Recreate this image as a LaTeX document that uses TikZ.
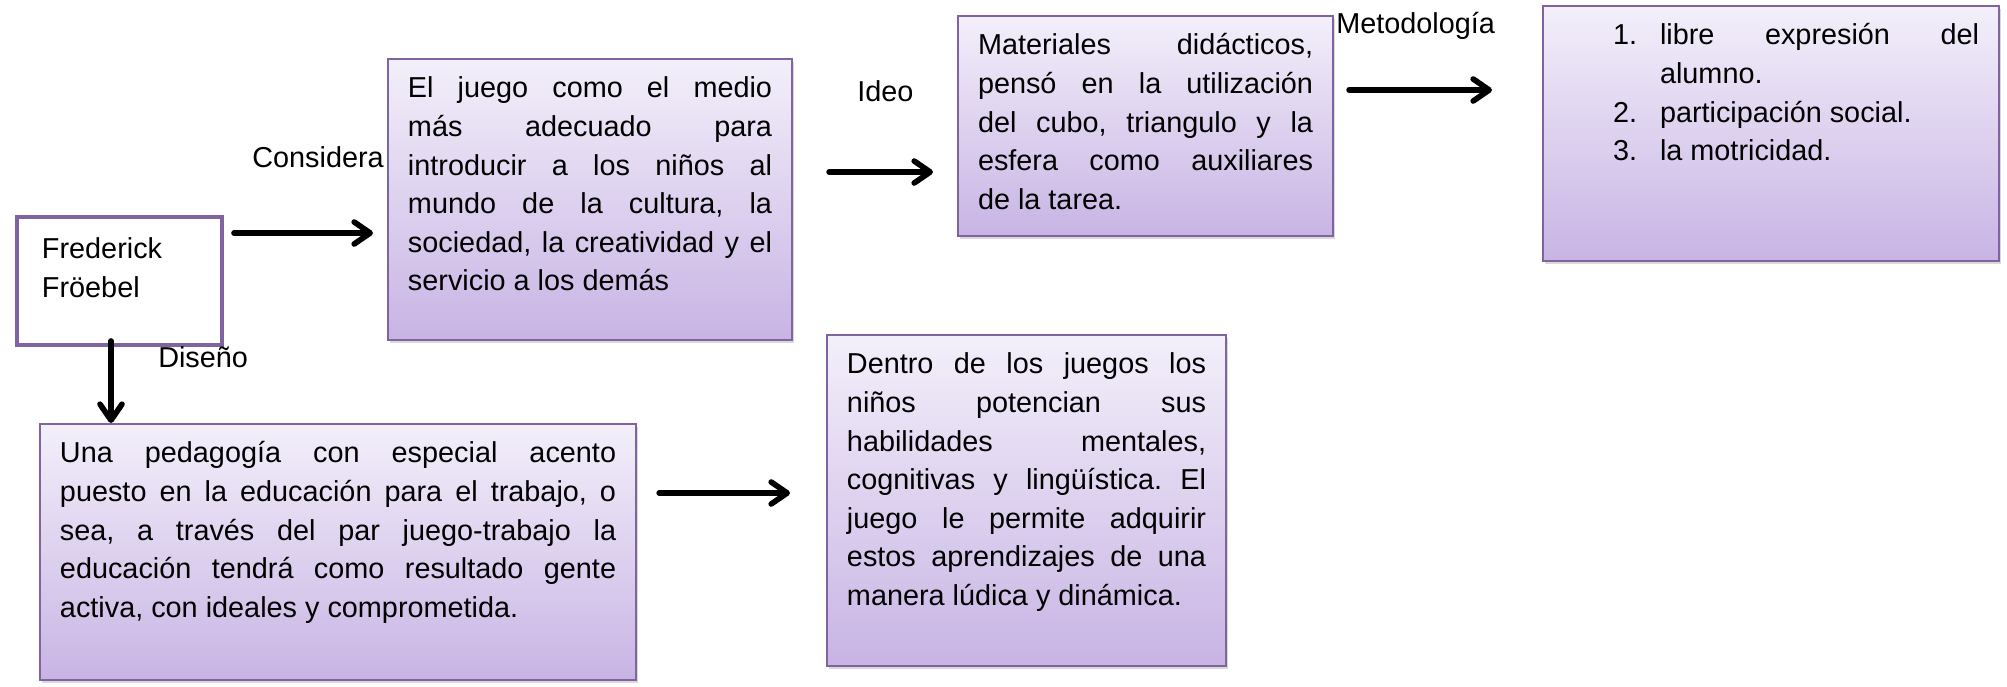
\documentclass[tikz,border=0pt]{standalone}
\usepackage{fontspec}
\setmainfont{Liberation Sans}
\usepackage{xcolor}
\usepackage{tikz}
\usetikzlibrary{arrows.meta, calc, shadows}

\definecolor{bordecaja}{RGB}{128,100,162}
\definecolor{cajaarriba}{RGB}{243,239,250}
\definecolor{cajaabajo}{RGB}{200,180,228}

\hyphenpenalty=10000
\exhyphenpenalty=10000
\tolerance=10000
\frenchspacing

\newcommand{\textocaja}[3]{\parbox[t][#1][t]{#2}{\strut#3}}
\newcommand{\itemcaja}[1]{\hangindent=1.175cm \hangafter=1 \noindent\strut\makebox[1.175cm][l]{#1}}

\tikzset{
    caja/.style={draw=bordecaja, line width=1.4pt, top color=cajaarriba, bottom color=cajaabajo,
        anchor=north west, inner xsep=0.5cm, inner ysep=0.3cm,
        drop shadow={shadow xshift=0.05cm, shadow yshift=-0.08cm, opacity=0.3}},
    cajablanca/.style={draw=bordecaja, line width=2.8pt, fill=white, anchor=north west,
        inner xsep=0.625cm, inner ysep=0.375cm},
    flecha/.style={-{Straight Barb[length=0.4cm, width=0.55cm, round]}, line width=4pt, line cap=round},
    etiqueta/.style={inner sep=0pt}
}

\begin{document}
\begin{tikzpicture}[x=0.025cm, y=-0.025cm, font=\fontsize{20.5}{27.4}\selectfont]
        \useasboundingbox (0,0) rectangle (2007,686);
        \node[cajablanca] (fred) at (15,215) {\textocaja{2.45cm}{3.875cm}{Frederick\\Fröebel}};
        \node[caja] (juego) at (387,58) {\textocaja{6.425cm}{9.1cm}{El juego como el medio\linebreak más adecuado para\linebreak introducir a los niños al\linebreak mundo de la cultura, la\linebreak sociedad, la creatividad y el\linebreak servicio a los demás}};
        \node[caja] (materiales) at (957,15) {\textocaja{4.9cm}{8.375cm}{Materiales didácticos,\linebreak pensó en la utilización\linebreak del cubo, triangulo y la\linebreak esfera como auxiliares\linebreak de la tarea.}};
        \node[caja] (metodo) at (1542,5) {\textocaja{5.775cm}{10.4cm}{\leftskip=1.25cm \itemcaja{1.}libre expresión del\linebreak alumno.\par
            \itemcaja{2.}participación social.\par
            \itemcaja{3.}la motricidad.}};
        \node[caja] (pedagogia) at (39,423) {\textocaja{5.8cm}{13.9cm}{Una pedagogía con especial acento\linebreak puesto en la educación para el trabajo, o\linebreak sea, a través del par juego-trabajo la\linebreak educación tendrá como resultado gente\linebreak activa, con ideales y comprometida.}};
        \node[caja] (dentro) at (826,334) {\textocaja{7.675cm}{8.975cm}{Dentro de los juegos los\linebreak niños potencian sus\linebreak habilidades mentales,\linebreak cognitivas y lingüística. El\linebreak juego le permite adquirir\linebreak estos aprendizajes de una\linebreak manera lúdica y dinámica.}};
        \node[etiqueta, anchor=base east] (considera) at (384,167) {Considera};
        \node[etiqueta, anchor=base west] (ideo) at (857,101) {Ideo};
        \node[etiqueta, anchor=base west] (metodologia) at (1336,33) {Metodología};
        \node[etiqueta, anchor=base west] (diseno) at (158,367) {Diseño};
        \draw[flecha] ($(fred.north east)+(10,18)$) -- ($(fred.north east -| juego.west)+(-14,18)$);
        \draw[flecha] ($(juego.north east)+(36,114)$) -- ($(juego.north east -| materiales.west)+(-24,114)$);
        \draw[flecha] ($(materiales.north east)+(15,75)$) -- ($(materiales.north east -| metodo.west)+(-50,75)$);
        \draw[flecha] ($(fred.south west)+(96,-6)$) coordinate (abajo) -- (abajo |- pedagogia.north);
        \draw[flecha] ($(pedagogia.north east)+(22,70)$) -- ($(pedagogia.north east -| dentro.west)+(-36,70)$);
    \end{tikzpicture}
\end{document}
